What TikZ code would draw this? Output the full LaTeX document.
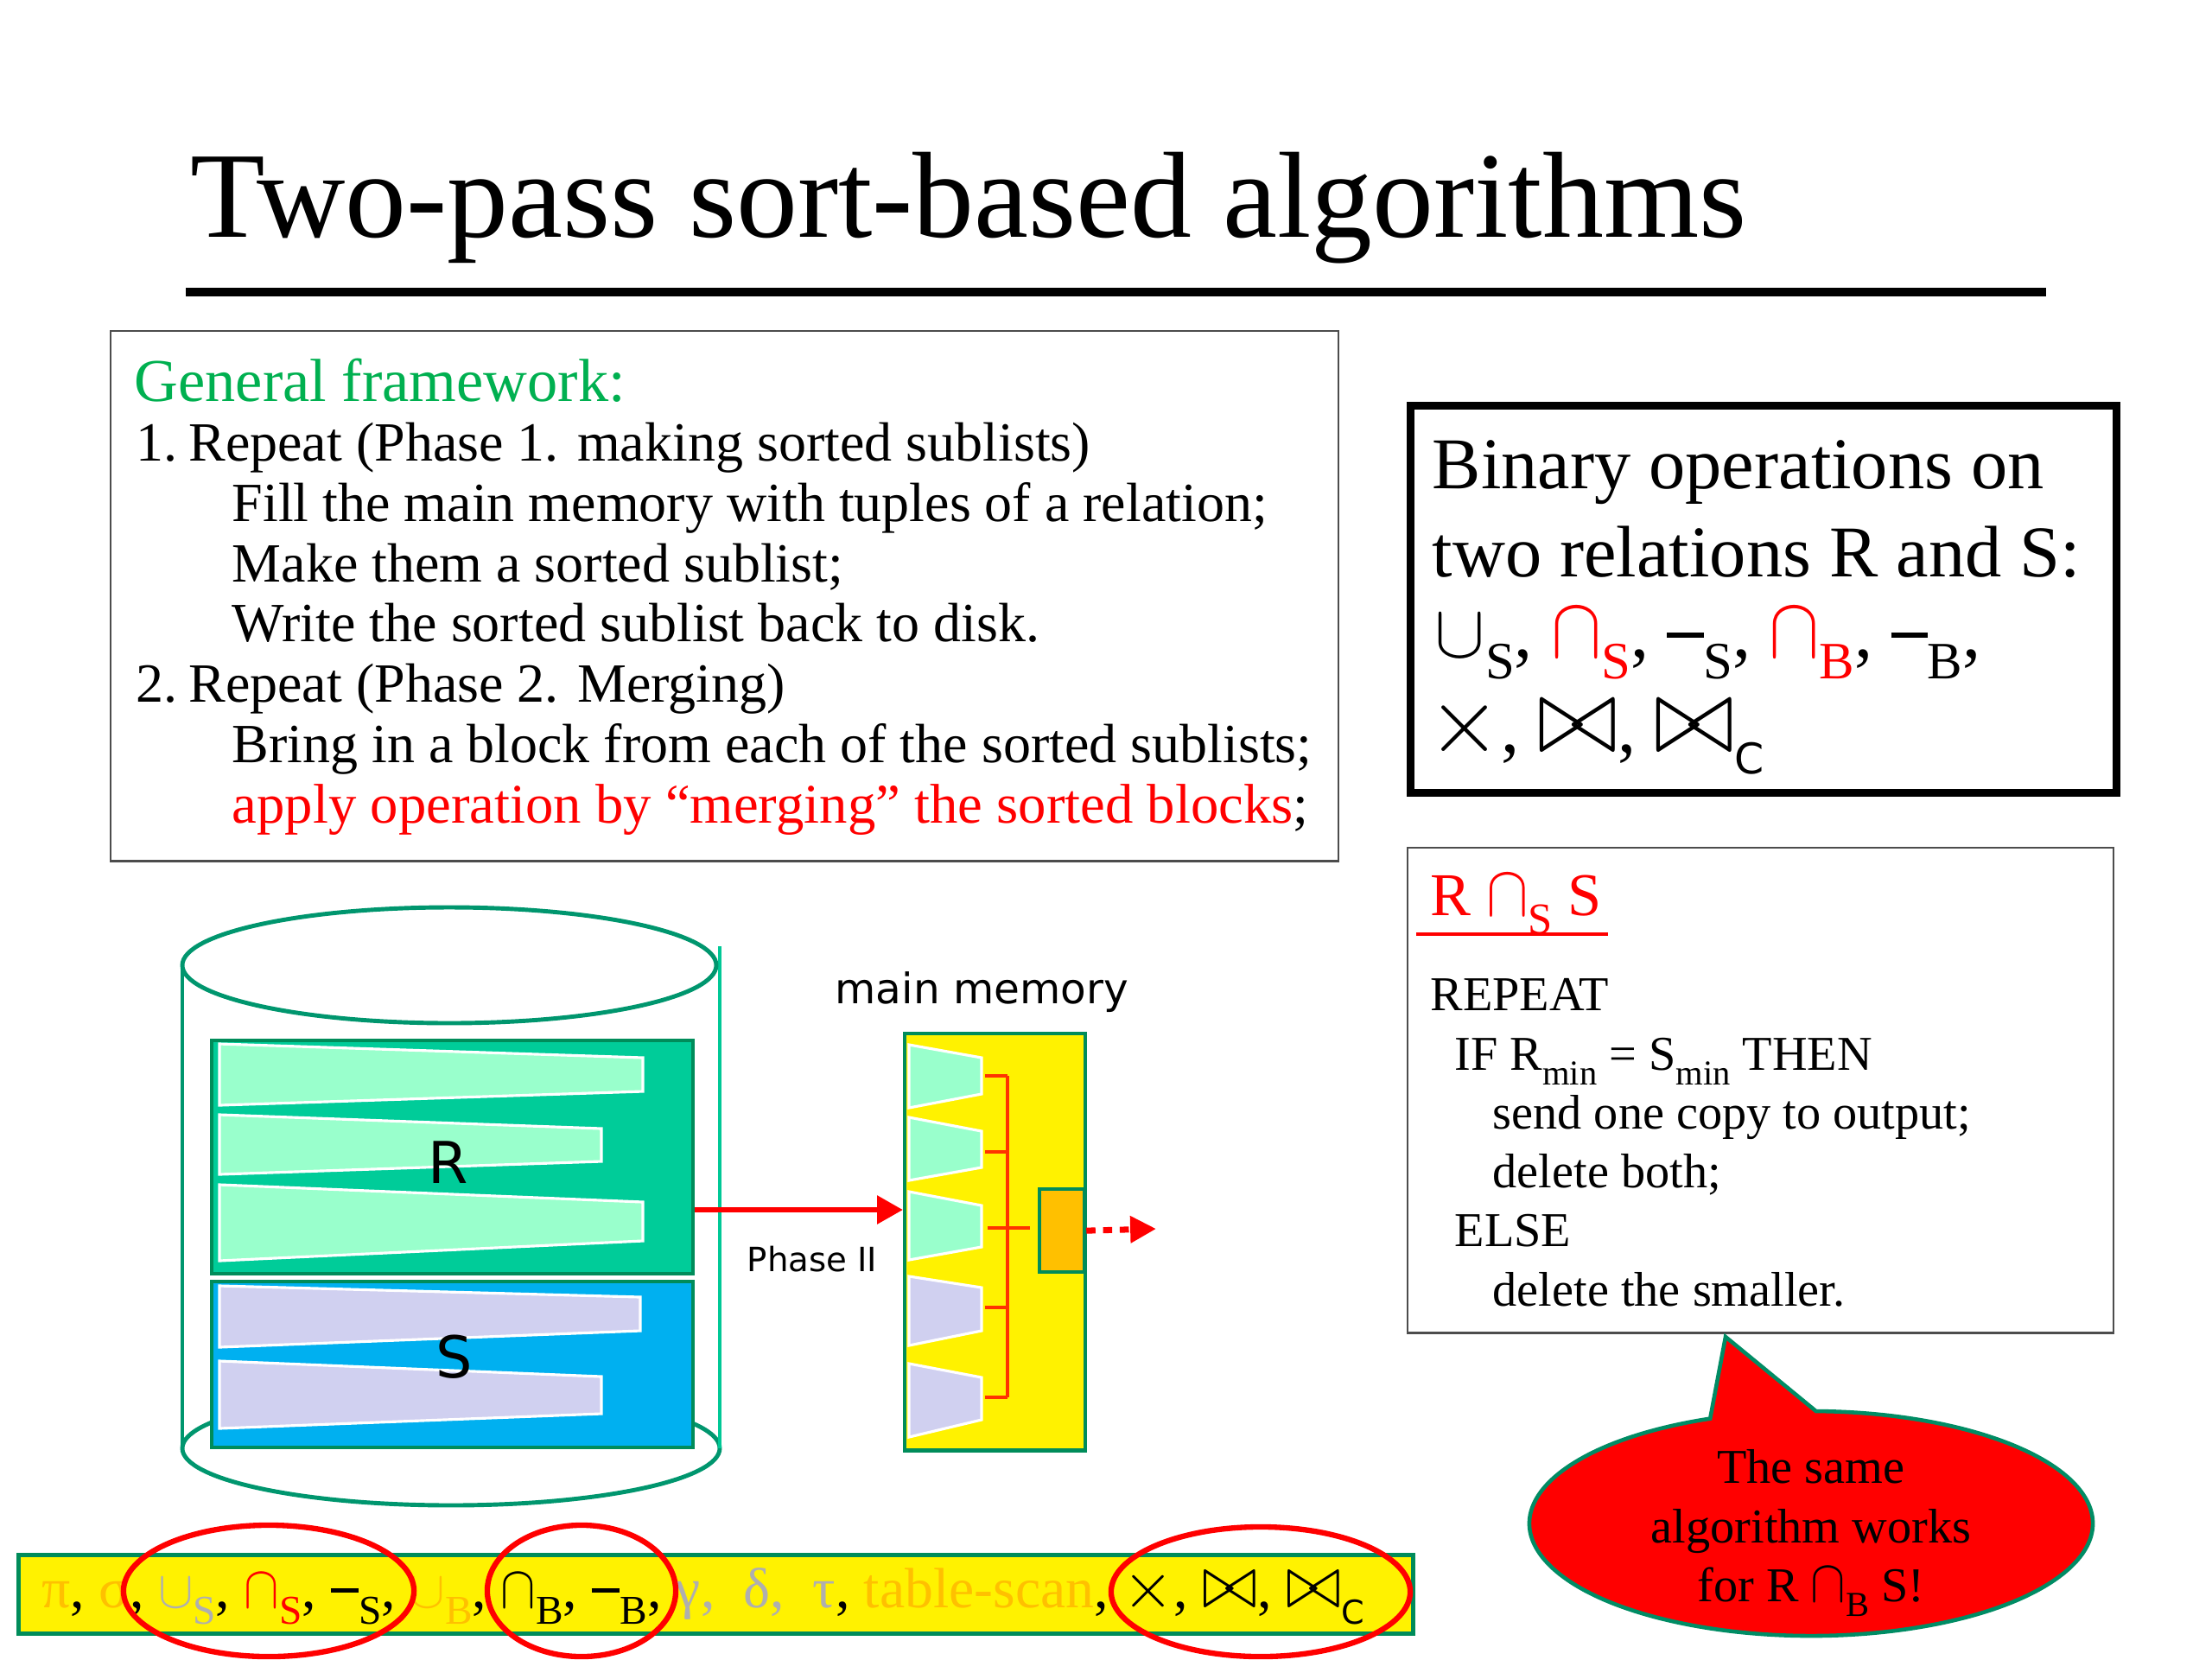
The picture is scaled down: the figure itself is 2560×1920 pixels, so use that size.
\documentclass[tikz,border=0pt]{standalone}
\usepackage{fontspec}
\usepackage{graphicx}
\setmainfont{Liberation Serif}
\newfontfamily\labf{DejaVu Sans}
\usetikzlibrary{arrows.meta,positioning,shapes.geometric}

\definecolor{fwgreen}{RGB}{0,176,80}
\definecolor{diskgreen}{RGB}{0,150,110}
\definecolor{sidegreen}{RGB}{0,200,150}
\definecolor{blkedge}{RGB}{0,140,90}
\definecolor{rfill}{RGB}{0,204,153}
\definecolor{rlight}{RGB}{153,255,204}
\definecolor{sfill}{RGB}{0,176,240}
\definecolor{slight}{RGB}{208,208,240}
\definecolor{amber}{RGB}{255,192,0}
\definecolor{busred}{RGB}{255,51,0}
\definecolor{bubgreen}{RGB}{0,140,100}
\definecolor{opgray}{RGB}{175,175,175}

% operator symbols
\newcommand{\opU}{\ensuremath{\cup}}
\newcommand{\opI}{\scalebox{1}[1.15]{\ensuremath{\cap}}}
\newcommand{\opM}{\rule[0.26em]{0.5em}{0.07em}}
\newcommand{\opX}{\scalebox{1.25}{\ensuremath{\times}}}
\newcommand{\opJ}{\scalebox{1.3}[1.45]{\ensuremath{\bowtie}}}
\newcommand{\lo}[1]{\raisebox{-0.3em}{\scalebox{0.72}{#1}}}
\newcommand{\loC}{\raisebox{-0.3em}{\scalebox{0.58}{\labf C}}}

\begin{document}
\begin{tikzpicture}[x=0.01cm, y=-0.01cm,
  txt/.style={inner sep=0pt, anchor=base west, align=left},
  frame/.style={draw=black!70, line width=0.7pt, inner sep=0pt, anchor=north west},
  blk/.style={draw=blkedge, line width=1.1pt, inner sep=0pt, anchor=north west},
  rstrip/.style={fill=rlight, draw=white, line width=0.9pt},
  sstrip/.style={fill=slight, draw=white, line width=0.9pt},
  disk/.style={draw=diskgreen, line width=1.4pt},
  bus/.style={draw=busred, line width=1.1pt},
  ring/.style={draw=red, line width=1.8pt, ellipse, inner sep=0pt},
  bubble/.style={fill=red, draw=bubgreen, line width=1.3pt},
  phasearr/.style={red, line width=1.9pt, -{Triangle[length=8.5pt, width=9pt]}},
  outarr/.style={red, line width=2pt, dash pattern=on 3pt off 2.5pt, -{Triangle[length=8.5pt, width=8.5pt]}},
]
\useasboundingbox (0,0) rectangle (2560,1920);
\fill[white] (0,0) rectangle (2560,1920);

% title
\node[txt, font=\fontsize{40.3}{48}\selectfont] (title) at (220,274) {Two-pass sort-based algorithms};
\draw[line width=2.6pt] (215,338) -- (2368,338);

% general framework (multi-line nodes sit on their last baseline)
\node[frame, minimum width=14.2cm, minimum height=6.13cm] (fwbox) at (127,382) {};
\node[txt, font=\fontsize{20}{24}\selectfont, text=fwgreen] (fwhead) at (155,464) {General framework:};
\node[txt, font=\fontsize{18.2}{19.83}\selectfont] (fwtxt) at (157,952) {1.\hspace{0.2em}Repeat (Phase 1. making sorted sublists)\\
\hspace*{1.11cm}Fill the main memory with tuples of a relation;\\
\hspace*{1.11cm}Make them a sorted sublist;\\
\hspace*{1.11cm}Write the sorted sublist back to disk.\\
2.\hspace{0.2em}Repeat (Phase 2. Merging)\\
\hspace*{1.11cm}Bring in a block from each of the sorted sublists;\\
\hspace*{1.11cm}{\color{red}\fontsize{18.4}{19.83}\selectfont apply operation by “merging” the sorted blocks};};

% binary operations
\node[frame, draw=black, line width=2.6pt, minimum width=8.16cm, minimum height=4.48cm] (binbox) at (1628,465) {};
\node[txt, font=\fontsize{24}{29}\selectfont] (bintxt) at (1657,667) {Binary operations on\\two relations R and S:};
\node[txt, font=\fontsize{24}{29}\selectfont] (binops) at (1660,760) {\opU\lo{S}, {\color{red}\opI\lo{S}}, \opM\lo{S}, {\color{red}\opI\lo{B}}, \opM\lo{B},};
\node[txt, font=\fontsize{24}{29}\selectfont] (binjoin) at (1652,870) {\opX, \opJ, \opJ\loC};

% algorithm
\node[frame, minimum width=8.16cm, minimum height=5.61cm] (algbox) at (1628,980) {};
\node[txt, font=\fontsize{20}{24}\selectfont, text=red] (algtitle) at (1655,1059) {R \opI\lo{S} S};
\draw[red, line width=1.3pt] (1639,1081) -- (1861,1081);
\node[txt, font=\fontsize{16}{19.4}\selectfont] (algtxt) at (1655,1511) {REPEAT\\
\hspace*{0.28cm}IF R\lo{min} = S\lo{min} THEN\\
\hspace*{0.72cm}send one copy to output;\\
\hspace*{0.72cm}delete both;\\
\hspace*{0.28cm}ELSE\\
\hspace*{0.72cm}delete the smaller.};

% disk
\draw[disk] (522,1676) ellipse[x radius=311, y radius=66];
\draw[disk] (211,1117) -- (211,1676);
\draw[disk, draw=sidegreen] (833,1095) -- (833,1676);
\filldraw[disk, fill=white] (520,1117) ellipse[x radius=309, y radius=67];
\node[blk, fill=rfill, minimum width=5.57cm, minimum height=2.70cm] (rblk) at (243,1202) {};
\node[blk, fill=sfill, minimum width=5.57cm, minimum height=1.92cm] (sblk) at (243,1481) {};
\foreach \lt/\lb/\rt/\rb/\rx in {1208/1279/1224/1263/744, 1290/1359/1306/1344/696, 1371/1459/1391/1436/744}
  \filldraw[rstrip] (254,\lt) -- (\rx,\rt) -- (\rx,\rb) -- (254,\lb) -- cycle;
\foreach \lt/\lb/\rt/\rb/\rx in {1488/1559/1501/1540/741, 1575/1653/1593/1636/696}
  \filldraw[sstrip] (254,\lt) -- (\rx,\rt) -- (\rx,\rb) -- (254,\lb) -- cycle;
\node[inner sep=0pt, font=\labf\fontsize{19}{20}\selectfont] (rlbl) at (519,1345) {R};
\node[inner sep=0pt, font=\labf\fontsize{19}{20}\selectfont] (slbl) at (526,1570) {S};

% main memory
\node[txt, font=\labf\fontsize{13.8}{16}\selectfont] (memlbl) at (966,1161) {main memory};
\node[blk, fill=yellow, line width=1.2pt, minimum width=2.09cm, minimum height=4.82cm] (mem) at (1045,1194) {};
\foreach \lt/\lb/\rt/\rb/\c in {1209/1282/1224/1266/rlight, 1293/1366/1309/1351/rlight, 1379/1458/1395/1443/rlight, 1477/1557/1490/1540/slight, 1578/1663/1594/1643/slight}
  \filldraw[fill=\c, draw=white, line width=0.9pt] (1052,\lt) -- (1136,\rt) -- (1136,\rb) -- (1052,\lb) -- cycle;
\node[blk, fill=amber, line width=1.2pt, minimum width=0.52cm, minimum height=0.96cm] (outbox) at (1201,1374) {};
\draw[bus] (1166,1245) -- (1166,1617);
\foreach \y in {1245,1333,1513,1617}
  \draw[bus] (1140,\y) -- (1166,\y);
\draw[bus, shorten >=2.5pt] (1143,1421) -- (outbox.west |- 0,1421);

% arrows
\coordinate (phy) at (0,1400);
\coordinate (outend) at (1338,1422);
\draw[phasearr] (rblk.east |- phy) -- (mem.west |- phy);
\draw[outarr] (outbox.east) -- (outend);
\node[txt, font=\labf\fontsize{11}{13}\selectfont] (phlbl) at (864,1471) {Phase II};

% speech bubble
\coordinate (tip) at (1997,1547);
\filldraw[bubble] (2096,1763) ++(-111:326 and 130) arc[start angle=-111, end angle=-449, x radius=326, y radius=130] -- (tip) -- cycle;
\node[align=center, inner sep=0pt, font=\fontsize{16}{19.5}\selectfont] (bubtxt) at (2096,1774) {The same\\algorithm works\\for R \opI\lo{B} S!};

% operator bar
\node[blk, fill=yellow, line width=1.4pt, minimum width=16.13cm, minimum height=0.91cm] (opbar) at (19,1797) {};
\node[txt, font=\fontsize{18.7}{20}\selectfont] (optxt) at (48,1860) {{\color{amber}π}, {\color{amber}σ}, {\color{opgray}\opU\lo{S}}, {\color{red}\opI\lo{S}}, \opM\lo{S}, {\color{amber}\opU\lo{B}}, \opI\lo{B}, \opM\lo{B}, {\color{opgray}γ, \ δ, \ τ}, {\color{amber}table-scan}, \opX, \opJ, \opJ\loC};
\node[ring, minimum width=3.36cm, minimum height=1.52cm] (ringS) at (311,1841) {};
\node[ring, minimum width=2.18cm, minimum height=1.52cm] (ringB) at (673,1841) {};
\node[ring, minimum width=3.46cm, minimum height=1.50cm] (ringJ) at (1459,1842) {};
\end{tikzpicture}
\end{document}
